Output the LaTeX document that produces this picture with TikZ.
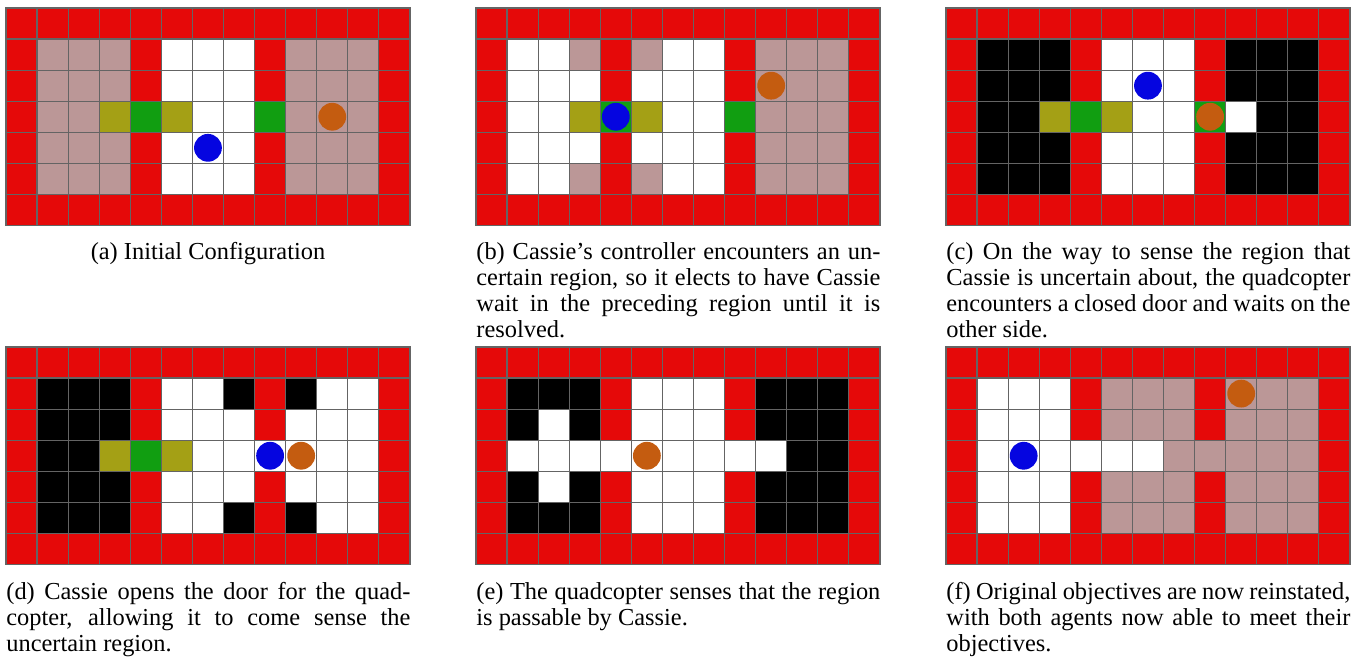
\documentclass[tikz,border=0pt]{standalone}
\usepackage{fontspec}
\setmainfont{Liberation Serif}

% cell colours, named by their one-letter code
\definecolor{cR}{HTML}{E50909}
\definecolor{cP}{HTML}{BB9797}
\definecolor{cW}{HTML}{FFFFFF}
\definecolor{cK}{HTML}{000000}
\definecolor{cO}{HTML}{A4A015}
\definecolor{cG}{HTML}{119E11}
\definecolor{cassieblue}{HTML}{0505E0}
\definecolor{quadorange}{HTML}{C45C10}
\definecolor{gridline}{HTML}{646464}

\newcommand\cellsize{31.07}
\newcommand\capw{202pt}

% one row of 13 cells: left x, top y, colour letters
\newcommand\gridrow[3]{%
  \foreach \c [count=\i from 0] in {#3}
    \path[cell, fill=c\c] ({#1+\i*\cellsize},{#2}) rectangle ++(\cellsize,\cellsize);}

% a 13x7 map: left x, top y, the five inner rows (outer ring is wall)
\newcommand\gridpanel[7]{%
  \gridrow{#1}{#2}{R,R,R,R,R,R,R,R,R,R,R,R,R}
  \gridrow{#1}{#2+1*\cellsize}{#3}
  \gridrow{#1}{#2+2*\cellsize}{#4}
  \gridrow{#1}{#2+3*\cellsize}{#5}
  \gridrow{#1}{#2+4*\cellsize}{#6}
  \gridrow{#1}{#2+5*\cellsize}{#7}
  \gridrow{#1}{#2+6*\cellsize}{R,R,R,R,R,R,R,R,R,R,R,R,R}}

\tikzset{
  cell/.style={draw=gridline, line width=0.6pt},
  agent/.style={circle, inner sep=0pt, minimum size=13.9pt},
  cassie/.style={agent, fill=cassieblue},
  quad/.style={agent, fill=quadorange},
  capline/.style={inner sep=0pt, anchor=base west, font=\fontsize{12.2}{14}\selectfont},
}

\begin{document}
\begin{tikzpicture}[x=0.5pt, y=-0.5pt]
\useasboundingbox (0,0) rectangle (1364,658);

% (a) initial configuration
\gridpanel{6}{8}
  {R,P,P,P,R,W,W,W,R,P,P,P,R}
  {R,P,P,P,R,W,W,W,R,P,P,P,R}
  {R,P,P,O,G,O,W,W,G,P,P,P,R}
  {R,P,P,P,R,W,W,W,R,P,P,P,R}
  {R,P,P,P,R,W,W,W,R,P,P,P,R}
\node[cassie] (cassieA) at ({6+6.5*\cellsize},{8+4.5*\cellsize}) {};
\node[quad] (quadA) at ({6+10.5*\cellsize},{8+3.5*\cellsize}) {};

% (b) Cassie waits at the door
\gridpanel{476}{8}
  {R,W,W,P,R,P,W,W,R,P,P,P,R}
  {R,W,W,W,R,W,W,W,R,P,P,P,R}
  {R,W,W,O,G,O,W,W,G,P,P,P,R}
  {R,W,W,W,R,W,W,W,R,P,P,P,R}
  {R,W,W,P,R,P,W,W,R,P,P,P,R}
\node[cassie] (cassieB) at ({476+4.5*\cellsize},{8+3.5*\cellsize}) {};
\node[quad] (quadB) at ({476+9.5*\cellsize},{8+2.5*\cellsize}) {};

% (c) quadcopter stopped at the closed door
\gridpanel{946}{8}
  {R,K,K,K,R,W,W,W,R,K,K,K,R}
  {R,K,K,K,R,W,W,W,R,K,K,K,R}
  {R,K,K,O,G,O,W,W,G,W,K,K,R}
  {R,K,K,K,R,W,W,W,R,K,K,K,R}
  {R,K,K,K,R,W,W,W,R,K,K,K,R}
\node[cassie] (cassieC) at ({946+6.5*\cellsize},{8+2.5*\cellsize}) {};
\node[quad] (quadC) at ({946+8.5*\cellsize},{8+3.5*\cellsize}) {};

% (d) door opened by Cassie
\gridpanel{6}{347}
  {R,K,K,K,R,W,W,K,R,K,W,W,R}
  {R,K,K,K,R,W,W,W,R,W,W,W,R}
  {R,K,K,O,G,O,W,W,W,W,W,W,R}
  {R,K,K,K,R,W,W,W,R,W,W,W,R}
  {R,K,K,K,R,W,W,K,R,K,W,W,R}
\node[cassie] (cassieD) at ({6+8.5*\cellsize},{347+3.5*\cellsize}) {};
\node[quad] (quadD) at ({6+9.5*\cellsize},{347+3.5*\cellsize}) {};

% (e) uncertain region sensed
\gridpanel{476}{347}
  {R,K,K,K,R,W,W,W,R,K,K,K,R}
  {R,K,W,K,R,W,W,W,R,K,K,K,R}
  {R,W,W,W,W,W,W,W,W,W,K,K,R}
  {R,K,W,K,R,W,W,W,R,K,K,K,R}
  {R,K,K,K,R,W,W,W,R,K,K,K,R}
\node[quad] (quadE) at ({476+5.5*\cellsize},{347+3.5*\cellsize}) {};

% (f) original objectives restored
\gridpanel{946}{347}
  {R,W,W,W,R,P,P,P,R,P,P,P,R}
  {R,W,W,W,R,P,P,P,R,P,P,P,R}
  {R,W,W,W,W,W,W,P,P,P,P,P,R}
  {R,W,W,W,R,P,P,P,R,P,P,P,R}
  {R,W,W,W,R,P,P,P,R,P,P,P,R}
\node[cassie] (cassieF) at ({946+2.5*\cellsize},{347+3.5*\cellsize}) {};
\node[quad] (quadF) at ({946+9.5*\cellsize},{347+1.5*\cellsize}) {};

% captions, one node per line
\node[capline, anchor=base] (capA1) at (208,259.5) {(a) Initial Configuration};

\node[capline] (capB1) at (476,259.5) {\hbox to \capw{(b) Cassie's controller encounters an un-}};
\node[capline] (capB2) at (476,285.5) {\hbox to \capw{certain region, so it elects to have Cassie}};
\node[capline] (capB3) at (476,311.5) {\hbox to \capw{wait in the preceding region until it is}};
\node[capline] (capB4) at (476,337.5) {resolved.};

\node[capline] (capC1) at (946,259.5) {\hbox to \capw{(c) On the way to sense the region that}};
\node[capline] (capC2) at (946,285.5) {\hbox to \capw{Cassie is uncertain about, the quadcopter}};
\node[capline] (capC3) at (946,311.5) {\hbox to \capw{encounters a closed door and waits on the}};
\node[capline] (capC4) at (946,337.5) {other side.};

\node[capline] (capD1) at (6,599) {\hbox to \capw{(d) Cassie opens the door for the quad-}};
\node[capline] (capD2) at (6,625) {\hbox to \capw{copter, allowing it to come sense the}};
\node[capline] (capD3) at (6,651) {uncertain region.};

\node[capline] (capE1) at (476,599) {\hbox to \capw{(e) The quadcopter senses that the region}};
\node[capline] (capE2) at (476,625) {is passable by Cassie.};

\node[capline] (capF1) at (946,599) {\hbox to \capw{(f) Original objectives are now reinstated,}};
\node[capline] (capF2) at (946,625) {\hbox to \capw{with both agents now able to meet their}};
\node[capline] (capF3) at (946,651) {objectives.};
\end{tikzpicture}
\end{document}
